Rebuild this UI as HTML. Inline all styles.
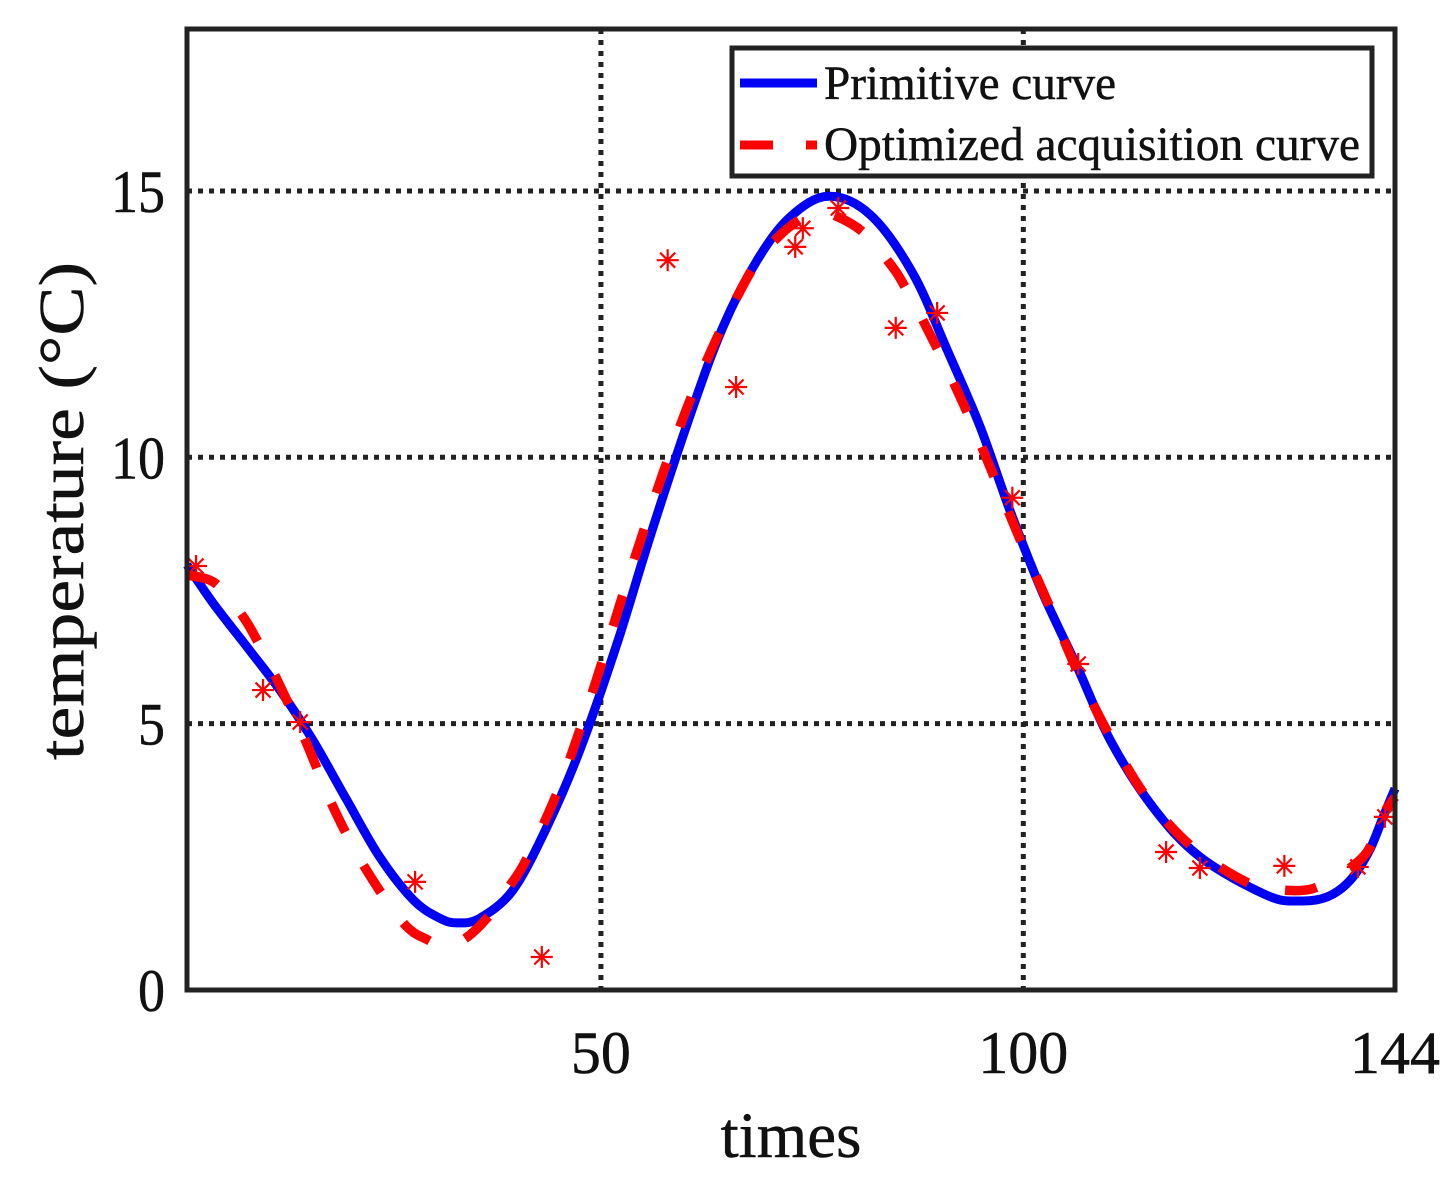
<!DOCTYPE html>
<html>
<head>
<meta charset="utf-8">
<title>Temperature curve</title>
<style>
html,body{margin:0;padding:0;background:#fff;}
svg{display:block;font-family:"Liberation Serif",serif;}
text{stroke:#111;stroke-width:0.5px;}
</style>
</head>
<body>
<svg id="chart" width="1451" height="1197" viewBox="0 0 1451 1197" xmlns="http://www.w3.org/2000/svg"></svg>
<script>
const xTicks = [50, 100, 144];
const yTicks = [0, 5, 10, 15];
const xGrid = [50, 100];
const yGrid = [5, 10, 15];
const primitiveT = [1,4.1,8.1,12,15.9,19.9,23.8,27.8,30.9,33,35.7,39.6,43.6,47.5,51.9,55.8,60.5,64.4,68.5,72.4,76.9,81.9,86.9,91,94.9,98.4,102.3,106.4,110.3,115.3,120.9,128.8,132.7,136,138.7,141,142.6,144];
const primitiveV = [7.98,7.26,6.44,5.63,4.69,3.57,2.5,1.69,1.35,1.26,1.35,1.88,3.06,4.5,6.5,8.5,10.76,12.43,13.7,14.51,14.9,14.55,13.46,12.01,10.57,9.01,7.45,6.06,4.69,3.44,2.5,1.78,1.67,1.75,2.06,2.63,3.25,3.78];
const optimizedT = [1,4.3,7.5,9.4,11.4,15,18.2,22.1,26.6,29.5,31.5,33.7,36.5,39,41,44.6,47.5,50.1,52.6,55.2,57.9,60.9,64.3,68.2,71,73.8,75.9,78.1,81,83.9,86,89.9,93.5,96.6,99.8,103.2,106.5,110.3,114.6,120.1,126.6,130.4,134.2,137.8,140.7,142.6,144];
const optimizedV = [7.79,7.64,7.04,6.53,5.91,4.69,3.47,2.29,1.26,0.94,0.84,0.94,1.35,1.91,2.4,3.62,4.88,6.14,7.42,8.69,9.95,11.21,12.43,13.61,14.14,14.49,14.6,14.51,14.23,13.7,13.2,12.01,10.79,9.61,8.39,7.17,5.95,4.75,3.62,2.67,2.01,1.88,1.9,2.2,2.59,3.29,3.62];
const sampleT = [2.07,10,14.4,28,43,57.9,66,73,73.9,78.1,84.9,89.8,98.7,106.5,116.9,120.9,130.9,139.6,142.8];
const sampleV = [7.96,5.63,5.03,2.03,0.62,13.7,11.32,13.95,14.3,14.68,12.43,12.71,9.24,6.12,2.59,2.29,2.33,2.31,3.25];

const plotLeft = 187, plotRight = 1395, plotTop = 29, plotBottom = 990;
const xMin = 1, xMax = 144, yMin = 0, yMax = 18.04;
function xScale(t){ return plotLeft + (t - xMin) / (xMax - xMin) * (plotRight - plotLeft); }
function yScale(v){ return plotBottom - (v - yMin) / (yMax - yMin) * (plotBottom - plotTop); }

const NS = 'http://www.w3.org/2000/svg';
const svg = document.getElementById('chart');
function make(tag, attrs, parent){
  const el = document.createElementNS(NS, tag);
  for (const k in attrs) el.setAttribute(k, attrs[k]);
  (parent || svg).appendChild(el);
  return el;
}
function smoothPath(ts, vs){
  const p = ts.map((t, i) => [xScale(t), yScale(vs[i])]);
  let d = 'M' + p[0][0].toFixed(1) + ' ' + p[0][1].toFixed(1);
  for (let i = 0; i < p.length - 1; i++){
    const a = p[Math.max(0, i - 1)], b = p[i], c = p[i + 1], e = p[Math.min(p.length - 1, i + 2)];
    const c1x = b[0] + (c[0] - a[0]) / 6, c1y = b[1] + (c[1] - a[1]) / 6;
    const c2x = c[0] - (e[0] - b[0]) / 6, c2y = c[1] - (e[1] - b[1]) / 6;
    d += 'C' + [c1x, c1y, c2x, c2y, c[0], c[1]].map(n => n.toFixed(1)).join(' ');
  }
  return d;
}

xGrid.forEach(t => {
  const g = make('line', {x1: xScale(t), x2: xScale(t), y1: plotTop, y2: plotBottom, stroke: '#222', 'stroke-width': 5, 'stroke-dasharray': '5 6'});
  
  
});
yGrid.forEach(v => {
  const g = make('line', {x1: plotLeft, x2: plotRight, y1: yScale(v), y2: yScale(v), stroke: '#222', 'stroke-width': 5, 'stroke-dasharray': '5 6'});
  
  
});

const primitive = make('path', {d: smoothPath(primitiveT, primitiveV), fill: 'none', stroke: '#0000f5', 'stroke-width': 9, 'stroke-linejoin': 'round'});



const optimized = make('path', {d: smoothPath(optimizedT, optimizedV), fill: 'none', stroke: '#ff0000', 'stroke-width': 9.5, 'stroke-dasharray': '32 38'});



sampleT.forEach((t, i) => {
  const cx = xScale(t), cy = yScale(sampleV[i]);
  const g = make('g', {stroke: '#ff0000', 'stroke-width': 2.2, fill: 'none'});
  
  
  [[11, 0], [0, 11], [7.5, 7.5], [7.5, -7.5]].forEach(o => {
    make('line', {x1: cx - o[0], y1: cy - o[1], x2: cx + o[0], y2: cy + o[1]}, g);
  });
});

const frame = make('rect', {x: plotLeft, y: plotTop, width: plotRight - plotLeft, height: plotBottom - plotTop, fill: 'none', stroke: '#222', 'stroke-width': 5});



xTicks.forEach(t => {
  const tx = make('text', {x: xScale(t), y: 1073, 'text-anchor': 'middle', 'font-size': 60, fill: '#111'});
  tx.textContent = t;
  
  
});
yTicks.forEach(v => {
  const tx = make('text', {x: 165, y: yScale(v) + 21, 'text-anchor': 'end', 'font-size': 60, fill: '#111', textLength: String(v).length * 27, lengthAdjust: 'spacingAndGlyphs'});
  tx.textContent = v;
  
  
});

const xTitle = make('text', {x: 791, y: 1157, 'text-anchor': 'middle', 'font-size': 65, fill: '#111'});
xTitle.textContent = 'times';



const yTitle = make('text', {transform: 'translate(83 511) rotate(-90)', 'text-anchor': 'middle', 'font-size': 64, fill: '#111', textLength: 498, lengthAdjust: 'spacingAndGlyphs'});
yTitle.textContent = 'temperature (°C)';



const legend = make('g', {});


const legendBox = make('rect', {x: 732, y: 48, width: 640, height: 128, fill: '#fff', stroke: '#222', 'stroke-width': 5}, legend);


const legendBlue = make('line', {x1: 740, x2: 817, y1: 83, y2: 83, stroke: '#0000f5', 'stroke-width': 9}, legend);


const legendRed = make('line', {x1: 740, x2: 817, y1: 145, y2: 145, stroke: '#ff0000', 'stroke-width': 9, 'stroke-dasharray': '33 33'}, legend);


const legendText1 = make('text', {x: 824, y: 99, 'font-size': 48, fill: '#111', textLength: 292, lengthAdjust: 'spacingAndGlyphs'}, legend);
legendText1.textContent = 'Primitive curve';


const legendText2 = make('text', {x: 824, y: 160, 'font-size': 48, fill: '#111', textLength: 536, lengthAdjust: 'spacingAndGlyphs'}, legend);
legendText2.textContent = 'Optimized acquisition curve';


</script>
</body>
</html>
